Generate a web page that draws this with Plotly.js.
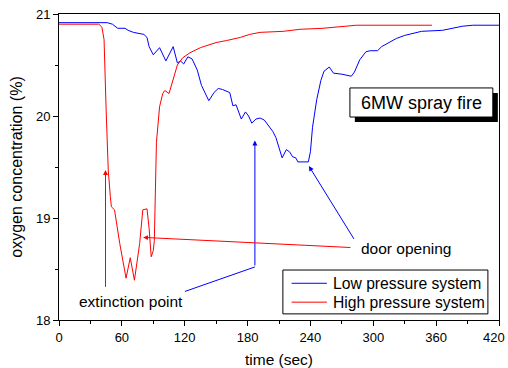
<!DOCTYPE html>
<html>
<head>
<meta charset="utf-8">
<script src="https://cdn.plot.ly/plotly-3.0.1.min.js"></script>
<style>html,body{margin:0;padding:0;background:#fff;}#chart{width:508px;height:368px;}</style>
</head>
<body>
<div id="chart"></div>
<script>
// Low pressure system (blue)
const lowTime = [0,46,51,56,63,66,71,76,81,84,86,90,96,102,106,109,113,116,119,123,127,132,136,140,143,148,152,156,160,163,166,169,174,178,181,184,188,192,196,200,204,207,210,213,217,220,223,226,228,238,240,242,246,250,253,258,262,270,279,282,287,293,297,304,308,313,318,322,330,338,346,366,375,385,395,420];
const lowO2 = [20.915,20.915,20.90,20.86,20.86,20.84,20.82,20.81,20.80,20.77,20.68,20.60,20.67,20.54,20.62,20.68,20.52,20.54,20.51,20.58,20.56,20.45,20.30,20.22,20.15,20.23,20.27,20.26,20.24,20.23,20.10,20.11,19.97,20.04,20.00,19.93,19.97,19.98,19.96,19.91,19.85,19.79,19.70,19.59,19.67,19.65,19.60,19.59,19.55,19.55,19.65,19.89,20.16,20.35,20.44,20.48,20.42,20.41,20.39,20.43,20.55,20.63,20.64,20.64,20.68,20.71,20.74,20.76,20.79,20.81,20.83,20.84,20.86,20.88,20.89,20.89];
// High pressure system (red)
const highTime = [0,38,41,43,45,47,49,50,53,58,64,68,72,77,80,84,86,88,90,91,93,96,99,101,105,109,113,118,125,135,150,160,173,182,192,214,230,252,270,284,356];
const highO2 = [20.90,20.90,20.87,20.75,20.06,19.47,19.21,19.11,19.08,18.75,18.41,18.61,18.39,18.75,19.08,19.09,18.90,18.62,18.68,18.78,19.74,20.09,20.22,20.25,20.22,20.37,20.50,20.57,20.62,20.67,20.72,20.74,20.77,20.80,20.82,20.83,20.85,20.86,20.88,20.89,20.89];
const seriesNames = ['Low pressure system','High pressure system'];
const seriesColors = ['#0000ff','#ff0000'];
const xTicks = [0,60,120,180,240,300,360,420];
const xTickLabels = ['0','60','120','180','240','300','360','420'];
const yTicks = [18,19,20,21];

const FONT = 'Liberation Sans, Arial, sans-serif';

const traces = [
  {x: lowTime, y: lowO2, name: seriesNames[0], mode: 'lines', line: {color: seriesColors[0], width: 1}},
  {x: highTime, y: highO2, name: seriesNames[1], mode: 'lines', line: {color: seriesColors[1], width: 1}}
];

// legend drawn as a boxed key inside the plot (Origin style)
const legendRows = [18.36, 18.175];
const legendShapes = [
  {type: 'rect', xref: 'x', yref: 'y', x0: 213.7, x1: 409.4, y0: 18.06, y1: 18.49, fillcolor: '#fff', line: {color: '#000', width: 1}}
];
const legendAnns = [];
seriesNames.forEach((nm, i) => {
  legendShapes.push({type: 'line', xref: 'x', yref: 'y', x0: 222.0, x1: 255.7, y0: legendRows[i], y1: legendRows[i], line: {color: seriesColors[i], width: 1}});
  legendAnns.push({x: 259.5, y: legendRows[i], xref: 'x', yref: 'y', text: nm, showarrow: false, xanchor: 'left', font: {size: 15.7}});
});

// last x tick label is right-aligned to the page edge so it is not clipped
const lastIdx = xTickLabels.length - 1;
const shownTickText = xTickLabels.map((t, i) => i === lastIdx ? '' : t);
const edgeLabel = {x: 1.018, y: -0.058, xref: 'paper', yref: 'paper', xanchor: 'right', yanchor: 'middle',
  text: xTickLabels[lastIdx], showarrow: false, font: {size: 13}};

const layout = {
  width: 508, height: 368,
  margin: {l: 59, r: 9, t: 14, b: 48},
  paper_bgcolor: '#fff', plot_bgcolor: '#fff',
  font: {family: FONT, color: '#000', size: 13},
  showlegend: false,
  xaxis: {
    range: [0, 420], tickvals: xTicks, ticktext: shownTickText, ticks: 'outside', ticklen: 5, tickcolor: '#000', tickwidth: 1,
    showline: true, linecolor: '#000', linewidth: 1, mirror: true, showgrid: false, zeroline: false,
    minor: {dtick: 30, ticks: 'outside', ticklen: 3, tickcolor: '#000', showgrid: false},
    tickfont: {size: 13}, title: {text: 'time (sec)', font: {size: 15.5}, standoff: 12}
  },
  yaxis: {
    range: [18, 21], tickvals: yTicks, ticks: 'outside', ticklen: 5, tickcolor: '#000', tickwidth: 1,
    showline: true, linecolor: '#000', linewidth: 1, mirror: true, showgrid: false, zeroline: false,
    minor: {dtick: 0.5, ticks: 'outside', ticklen: 3, tickcolor: '#000', showgrid: false},
    tickfont: {size: 13}, title: {text: 'oxygen concentration (%)', font: {size: 16}, standoff: 9}
  },
  shapes: [
    {type: 'rect', xref: 'x', yref: 'y', x0: 282.4, x1: 418.9, y0: 19.94, y1: 20.225, fillcolor: '#000', line: {width: 0}},
    {type: 'rect', xref: 'x', yref: 'y', x0: 277.7, x1: 414.1, y0: 19.99, y1: 20.275, fillcolor: '#fff', line: {color: '#000', width: 1}},
    {type: 'path', xref: 'x', yref: 'y', path: 'M 120.2,18.28 L 187,18.52', line: {color: '#0000ff', width: 1}}
  ].concat(legendShapes),
  annotations: [
    {x: 345.9, y: 20.13, xref: 'x', yref: 'y', text: '6MW spray fire', showarrow: false, font: {size: 18}},
    {x: 68.7, y: 18.18, xref: 'x', yref: 'y', text: 'extinction point', showarrow: false, font: {size: 15.5}},
    {x: 286.5, y: 18.70, xref: 'x', yref: 'y', text: 'door opening', showarrow: false, xanchor: 'left', font: {size: 15.5}},
    {x: 44.4, y: 19.47, ax: 44.4, ay: 18.31, xref: 'x', yref: 'y', axref: 'x', ayref: 'y', text: '', showarrow: true, arrowhead: 2, arrowsize: 1, arrowwidth: 1, arrowcolor: '#ff0000', standoff: 0},
    {x: 187, y: 19.76, ax: 187, ay: 18.52, xref: 'x', yref: 'y', axref: 'x', ayref: 'y', text: '', showarrow: true, arrowhead: 2, arrowsize: 1, arrowwidth: 1, arrowcolor: '#0000ff', standoff: 0},
    {x: 80.2, y: 18.81, ax: 279.6, ay: 18.71, xref: 'x', yref: 'y', axref: 'x', ayref: 'y', text: '', showarrow: true, arrowhead: 2, arrowsize: 1, arrowwidth: 1, arrowcolor: '#ff0000', standoff: 0},
    {x: 238.5, y: 19.51, ax: 282.4, ay: 18.78, xref: 'x', yref: 'y', axref: 'x', ayref: 'y', text: '', showarrow: true, arrowhead: 2, arrowsize: 1, arrowwidth: 1, arrowcolor: '#0000ff', standoff: 0},
    edgeLabel
  ].concat(legendAnns)
};

Plotly.newPlot('chart', traces, layout, {displayModeBar: false, staticPlot: true});
</script>
</body>
</html>
